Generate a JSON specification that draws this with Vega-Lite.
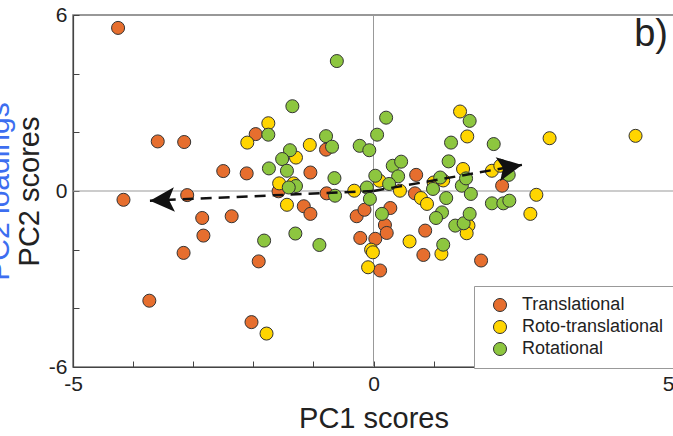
{
  "$schema": "https://vega.github.io/schema/vega-lite/v6.json",
  "width": 601,
  "height": 352,
  "autosize": {"type": "none"},
  "padding": {"left": 73, "top": 15, "right": 0, "bottom": 69},
  "background": "white",
  "title": {"text": "b)", "anchor": "end", "frame": "group", "fontSize": 38, "fontWeight": "normal", "font": "Liberation Sans", "color": "#222", "baseline": "alphabetic", "offset": 0, "dy": 80, "dx": -6},
  "config": {
    "font": "Liberation Sans",
    "view": {"stroke": "#777", "strokeWidth": 1.5},
    "axis": {"grid": false, "domainColor": "#444", "domainWidth": 1.2, "tickColor": "#444", "labelColor": "#222", "titleColor": "#222", "labelFontSize": 21, "titleFontSize": 29, "titleFontWeight": "normal", "labelFont": "Liberation Sans", "titleFont": "Liberation Sans"}
  },
  "datasets": {
    "pts": [
      {"type": "Translational", "x": -4.25, "y": 5.56},
      {"type": "Translational", "x": -3.59, "y": 1.69},
      {"type": "Translational", "x": -3.15, "y": 1.67},
      {"type": "Translational", "x": -1.96, "y": 1.94},
      {"type": "Translational", "x": -0.79, "y": 1.41},
      {"type": "Translational", "x": -2.5, "y": 0.68},
      {"type": "Translational", "x": -2.11, "y": 0.6},
      {"type": "Translational", "x": -1.05, "y": 0.63},
      {"type": "Translational", "x": -1.58, "y": -0.01},
      {"type": "Translational", "x": -0.78, "y": -0.08},
      {"type": "Translational", "x": -4.16, "y": -0.3},
      {"type": "Translational", "x": -3.1, "y": -0.14},
      {"type": "Translational", "x": -2.85, "y": -0.92},
      {"type": "Translational", "x": -2.36, "y": -0.86},
      {"type": "Translational", "x": -2.83, "y": -1.52},
      {"type": "Translational", "x": -3.16, "y": -2.11},
      {"type": "Translational", "x": -3.73, "y": -3.74},
      {"type": "Translational", "x": -1.91, "y": -2.4},
      {"type": "Translational", "x": -2.03, "y": -4.47},
      {"type": "Translational", "x": -1.16, "y": -0.52},
      {"type": "Translational", "x": -1.05, "y": -0.78},
      {"type": "Translational", "x": -0.28, "y": -0.86},
      {"type": "Translational", "x": -0.15, "y": -0.64},
      {"type": "Translational", "x": -0.22, "y": -1.6},
      {"type": "Translational", "x": 0.03, "y": -1.63},
      {"type": "Translational", "x": 0.11, "y": -2.71},
      {"type": "Translational", "x": 0.28, "y": -0.58},
      {"type": "Translational", "x": 0.19, "y": -1.16},
      {"type": "Translational", "x": 0.22, "y": -1.43},
      {"type": "Translational", "x": 0.69, "y": -0.08},
      {"type": "Translational", "x": 0.71, "y": 0.55},
      {"type": "Translational", "x": 0.86, "y": -1.35},
      {"type": "Translational", "x": 0.83, "y": -2.18},
      {"type": "Translational", "x": 2.14, "y": 0.18},
      {"type": "Translational", "x": 1.79, "y": -2.37},
      {"type": "Roto-translational", "x": -1.75, "y": 2.31},
      {"type": "Roto-translational", "x": -2.1, "y": 1.65},
      {"type": "Roto-translational", "x": -1.06, "y": 1.57},
      {"type": "Roto-translational", "x": -1.29, "y": 1.14},
      {"type": "Roto-translational", "x": -1.57, "y": 0.26},
      {"type": "Roto-translational", "x": -1.33, "y": 0.26},
      {"type": "Roto-translational", "x": -0.32, "y": 0.01},
      {"type": "Roto-translational", "x": -1.44, "y": -0.47},
      {"type": "Roto-translational", "x": -1.78, "y": -4.86},
      {"type": "Roto-translational", "x": -0.04, "y": -2.0},
      {"type": "Roto-translational", "x": -0.01, "y": -2.09},
      {"type": "Roto-translational", "x": -0.09, "y": -2.6},
      {"type": "Roto-translational", "x": 0.44, "y": 0.01},
      {"type": "Roto-translational", "x": 0.79, "y": -0.24},
      {"type": "Roto-translational", "x": 0.89, "y": -0.44},
      {"type": "Roto-translational", "x": 0.6, "y": -1.72},
      {"type": "Roto-translational", "x": 1.13, "y": -2.14},
      {"type": "Roto-translational", "x": 1.58, "y": -1.18},
      {"type": "Roto-translational", "x": 1.55, "y": -1.44},
      {"type": "Roto-translational", "x": 2.71, "y": -0.13},
      {"type": "Roto-translational", "x": 2.61, "y": -0.78},
      {"type": "Roto-translational", "x": 1.44, "y": 2.71},
      {"type": "Roto-translational", "x": 1.56, "y": 1.86},
      {"type": "Roto-translational", "x": 2.93, "y": 1.8},
      {"type": "Roto-translational", "x": 4.36, "y": 1.88},
      {"type": "Roto-translational", "x": 0.1, "y": 0.35},
      {"type": "Roto-translational", "x": 1.0, "y": 0.29},
      {"type": "Roto-translational", "x": 1.16, "y": 0.36},
      {"type": "Roto-translational", "x": 1.49, "y": 0.75},
      {"type": "Roto-translational", "x": 1.97, "y": 0.69},
      {"type": "Roto-translational", "x": 2.11, "y": 0.86},
      {"type": "Rotational", "x": -0.61, "y": 4.43},
      {"type": "Rotational", "x": -1.35, "y": 2.89},
      {"type": "Rotational", "x": -1.75, "y": 1.92},
      {"type": "Rotational", "x": -0.79, "y": 1.87},
      {"type": "Rotational", "x": -0.69, "y": 1.51},
      {"type": "Rotational", "x": -1.39, "y": 1.39},
      {"type": "Rotational", "x": -1.52, "y": 1.09},
      {"type": "Rotational", "x": -1.74, "y": 0.77},
      {"type": "Rotational", "x": -1.44, "y": 0.69},
      {"type": "Rotational", "x": -0.65, "y": 0.44},
      {"type": "Rotational", "x": -0.23, "y": 1.54},
      {"type": "Rotational", "x": -0.07, "y": 1.39},
      {"type": "Rotational", "x": 0.06, "y": 1.92},
      {"type": "Rotational", "x": 0.03, "y": 0.52},
      {"type": "Rotational", "x": -1.29, "y": 0.17},
      {"type": "Rotational", "x": -1.41, "y": 0.12},
      {"type": "Rotational", "x": -0.11, "y": 0.12},
      {"type": "Rotational", "x": -0.64, "y": -0.16},
      {"type": "Rotational", "x": -0.06, "y": -0.27},
      {"type": "Rotational", "x": -1.82, "y": -1.69},
      {"type": "Rotational", "x": -1.3, "y": -1.45},
      {"type": "Rotational", "x": -0.9, "y": -1.84},
      {"type": "Rotational", "x": 0.14, "y": -0.78},
      {"type": "Rotational", "x": 0.99, "y": 0.07},
      {"type": "Rotational", "x": 1.21, "y": -0.24},
      {"type": "Rotational", "x": 1.14, "y": -0.73},
      {"type": "Rotational", "x": 1.04, "y": -0.92},
      {"type": "Rotational", "x": 1.16, "y": -1.83},
      {"type": "Rotational", "x": 1.36, "y": -1.18},
      {"type": "Rotational", "x": 1.5, "y": -1.1},
      {"type": "Rotational", "x": 1.6, "y": -0.78},
      {"type": "Rotational", "x": 1.47, "y": 0.18},
      {"type": "Rotational", "x": 1.62, "y": -0.1},
      {"type": "Rotational", "x": 1.97, "y": -0.42},
      {"type": "Rotational", "x": 2.16, "y": -0.42},
      {"type": "Rotational", "x": 2.26, "y": -0.33},
      {"type": "Rotational", "x": 0.21, "y": 2.5},
      {"type": "Rotational", "x": 1.6, "y": 2.39},
      {"type": "Rotational", "x": 1.29, "y": 1.65},
      {"type": "Rotational", "x": 2.0, "y": 1.6},
      {"type": "Rotational", "x": 0.32, "y": 0.86},
      {"type": "Rotational", "x": 0.46, "y": 1.0},
      {"type": "Rotational", "x": 0.41, "y": 0.5},
      {"type": "Rotational", "x": 0.26, "y": 0.24},
      {"type": "Rotational", "x": 1.11, "y": 0.46},
      {"type": "Rotational", "x": 1.25, "y": 1.01},
      {"type": "Rotational", "x": 1.54, "y": 0.43},
      {"type": "Rotational", "x": 2.25, "y": 0.55}
    ],
    "load": [
      {"end": "left", "x0": 0, "y0": 0, "x": -3.72, "y": -0.33},
      {"end": "right", "x0": 0, "y0": 0, "x": 2.47, "y": 0.89}
    ]
  },
  "data": {"name": "pts"},
  "resolve": {"axis": {"y": "independent"}},
  "layer": [
    {
      "data": {"values": [{"zero": 0}]},
      "mark": {"type": "rule", "color": "#999", "strokeWidth": 1},
      "encoding": {"x": {"field": "zero", "type": "quantitative", "scale": {"domain": [-5, 5], "nice": false}}}
    },
    {
      "data": {"values": [{"zero": 0}]},
      "mark": {"type": "rule", "color": "#999", "strokeWidth": 1},
      "encoding": {"y": {"field": "zero", "type": "quantitative", "scale": {"domain": [-6, 6], "nice": false}, "axis": null}}
    },
    {
      "mark": {"type": "point", "filled": true, "shape": "circle", "size": 170, "stroke": "#333", "strokeWidth": 1, "opacity": 1},
      "encoding": {
        "x": {"field": "x", "type": "quantitative", "scale": {"domain": [-5, 5], "nice": false},
          "axis": {"title": "PC1 scores", "values": [-5, -4, -3, -2, -1, 0, 1, 2, 3, 4, 5], "tickSize": -6, "labelPadding": 12, "titlePadding": 10, "labelFlush": false,
            "labelAlign": {"condition": {"test": "datum.value == 5", "value": "right"}, "value": "center"},
            "labelExpr": "datum.value == 0 ? '0' : datum.value == 5 ? '5' : datum.value == -5 ? '-5' : ''"}},
        "y": {"field": "y", "type": "quantitative", "scale": {"domain": [-6, 6], "nice": false},
          "axis": {"title": "PC2 scores", "values": [-6, -4, -2, 0, 2, 4, 6], "tickSize": -6, "labelPadding": 12, "titlePadding": 4,
            "labelExpr": "datum.value == 0 ? '0' : datum.value == 6 ? '6' : datum.value == -6 ? '-6' : ''"}},
        "color": {"field": "type", "type": "nominal",
          "scale": {"domain": ["Translational", "Roto-translational", "Rotational"], "range": ["#e66e2e", "#ffd500", "#8dc63f"]},
          "legend": {"title": null, "orient": "none", "legendX": 401, "legendY": 271, "padding": 10, "strokeColor": "#999", "fillColor": "white",
            "labelFontSize": 18, "labelColor": "#222", "labelOffset": 13, "rowPadding": 4, "symbolType": "circle", "symbolSize": 170,
            "symbolStrokeColor": "#333", "symbolStrokeWidth": 1, "symbolOffset": 7}}
      }
    },
    {
      "data": {"name": "load"},
      "mark": {"type": "rule", "color": "#111", "strokeWidth": 2.5, "strokeDash": [11, 7]},
      "encoding": {
        "x": {"field": "x0", "type": "quantitative", "scale": {"domain": [-5, 5], "nice": false}},
        "y": {"field": "y0", "type": "quantitative", "scale": {"domain": [-6, 6], "nice": false}, "axis": null},
        "x2": {"field": "x"},
        "y2": {"field": "y"}
      }
    },
    {
      "data": {"name": "load"},
      "transform": [{"filter": "datum.end == 'left'"}],
      "mark": {"type": "point", "filled": true, "shape": "M0,0L-2,-1L-1.55,0L-2,1Z", "size": 600, "color": "#111", "opacity": 1, "angle": 177.4},
      "encoding": {
        "x": {"field": "x", "type": "quantitative", "scale": {"domain": [-5, 5], "nice": false}},
        "y": {"field": "y", "type": "quantitative", "scale": {"domain": [-6, 6], "nice": false},
          "axis": {"orient": "left", "title": "PC2 loadings", "titleColor": "#3d6ef0", "titleFontSize": 30, "domain": false, "ticks": false, "labels": false, "titlePadding": 59}}
      }
    },
    {
      "data": {"name": "load"},
      "transform": [{"filter": "datum.end == 'right'"}],
      "mark": {"type": "point", "filled": true, "shape": "M0,0L-2,-1L-1.55,0L-2,1Z", "size": 600, "color": "#111", "opacity": 1, "angle": -10.3},
      "encoding": {
        "x": {"field": "x", "type": "quantitative", "scale": {"domain": [-5, 5], "nice": false}},
        "y": {"field": "y", "type": "quantitative", "scale": {"domain": [-6, 6], "nice": false}, "axis": null}
      }
    }
  ]
}
